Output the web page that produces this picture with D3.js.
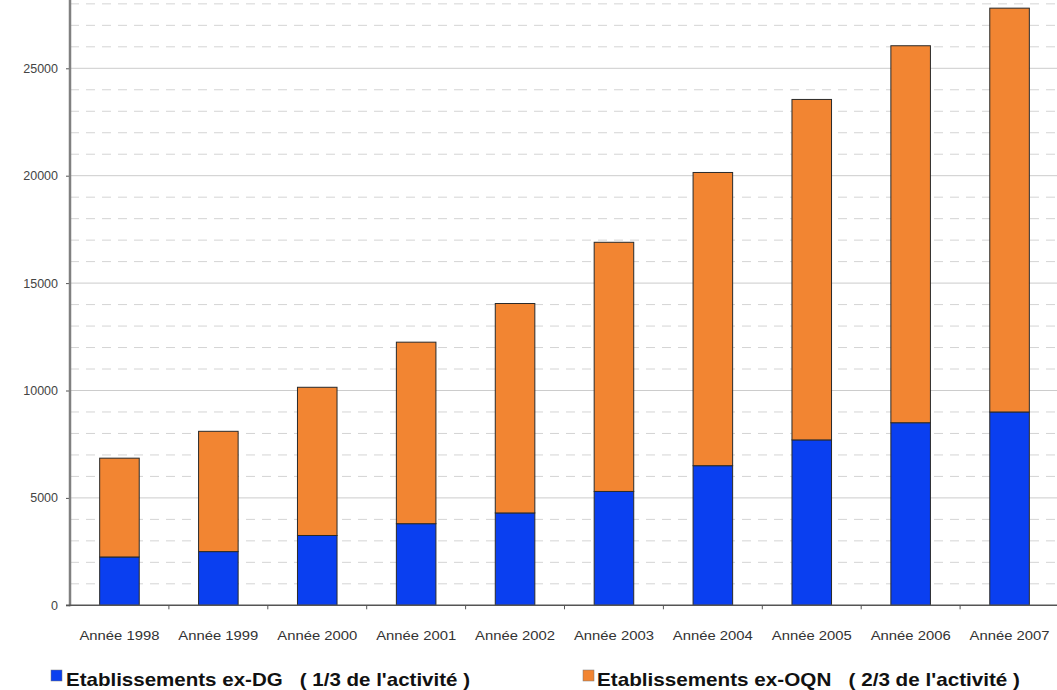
<!DOCTYPE html>
<html>
<head>
<meta charset="utf-8">
<script src="https://cdn.jsdelivr.net/npm/d3@7"></script>
<style>
  html, body { margin: 0; padding: 0; background: #fff; }
  svg { display: block; font-family: "Liberation Sans", Arial, Helvetica, sans-serif; }
</style>
</head>
<body>
<svg id="chart" width="1057" height="690"></svg>
<script>
// Years on the category axis
const years = ["Année 1998", "Année 1999", "Année 2000", "Année 2001", "Année 2002",
               "Année 2003", "Année 2004", "Année 2005", "Année 2006", "Année 2007"];
// Series values (stacked): ex-DG at the bottom, ex-OQN on top
const exDG  = [2250, 2500, 3250, 3800, 4300, 5300, 6500, 7700, 8500, 9000];
const exOQN = [4600, 5600, 6900, 8450, 9750, 11600, 13650, 15850, 17550, 18800];
// Axis ticks
const majorTicks = [0, 5000, 10000, 15000, 20000, 25000];
const minorTicks = [1000, 2000, 3000, 4000, 6000, 7000, 8000, 9000, 11000, 12000, 13000, 14000,
                    16000, 17000, 18000, 19000, 21000, 22000, 23000, 24000, 26000, 27000, 28000];
const seriesNames = ["Etablissements ex-DG   ( 1/3 de l'activité )",
                     "Etablissements ex-OQN   ( 2/3 de l'activité )"];
const colors = ["#0a3ff0", "#f28532"];

const svg = d3.select("#chart");
const left = 70, right = 1059, zeroY = 605.3;

const x = d3.scaleBand().domain(years).range([left, right]).paddingInner(0.6).paddingOuter(0.3);
const bandStep = (right - left) / years.length;
const y = d3.scaleLinear().domain([0, 25000]).range([zeroY, 68.3]);

// minor dashed gridlines
svg.append("g").selectAll("line").data(minorTicks).join("line")
  .attr("x1", left).attr("x2", 1057)
  .attr("y1", d => y(d)).attr("y2", d => y(d))
  .attr("stroke", "#d4d4d4").attr("stroke-width", 1)
  .attr("stroke-dasharray", "9,7");

// major solid gridlines
svg.append("g").selectAll("line").data(majorTicks.filter(d => d > 0)).join("line")
  .attr("x1", left).attr("x2", 1057)
  .attr("y1", d => y(d)).attr("y2", d => y(d))
  .attr("stroke", "#cccccc").attr("stroke-width", 1);

// stacked bars
const rows = years.map((yr, i) => ({ year: yr, dg: exDG[i], oqn: exOQN[i] }));
const stack = d3.stack().keys(["dg", "oqn"])(rows);

svg.append("g").selectAll("g").data(stack).join("g")
  .attr("fill", (d, i) => colors[i])
  .selectAll("rect").data(d => d).join("rect")
  .attr("x", d => x(d.data.year))
  .attr("width", x.bandwidth())
  .attr("y", d => y(d[1]))
  .attr("height", d => y(d[0]) - y(d[1]))
  .attr("stroke", "#2a2a2a").attr("stroke-width", 1);

// y axis
const yAxis = d3.axisLeft(y).tickValues(majorTicks).tickSize(4).tickPadding(8).tickFormat(d3.format("d"));
const gy = svg.append("g").attr("transform", `translate(${left},0)`).call(yAxis);
gy.select(".domain").remove();
gy.selectAll(".tick line").attr("stroke", "#555");
gy.selectAll(".tick text").attr("fill", "#444").style("font-size", "12.5px");
svg.append("line").attr("x1", left).attr("x2", left).attr("y1", 0).attr("y2", zeroY + 1)
  .attr("stroke", "#808080").attr("stroke-width", 2.5);

// x axis with ticks at category boundaries
const boundaries = d3.range(1, years.length).map(i => left + i * bandStep);
svg.append("line").attr("x1", left - 4).attr("x2", 1057).attr("y1", zeroY).attr("y2", zeroY)
  .attr("stroke", "#555").attr("stroke-width", 1.5);
svg.append("g").selectAll("line").data(boundaries).join("line")
  .attr("x1", d => d).attr("x2", d => d)
  .attr("y1", zeroY).attr("y2", zeroY + 4)
  .attr("stroke", "#555");
svg.append("g").selectAll("text").data(years).join("text")
  .attr("x", d => x(d) + x.bandwidth() / 2)
  .attr("y", 640)
  .attr("text-anchor", "middle")
  .attr("fill", "#333")
  .attr("textLength", 80)
  .attr("lengthAdjust", "spacingAndGlyphs")
  .style("font-size", "12.5px")
  .text(d => d);

// legend
const legendPos = [{ sx: 51, tx: 66, w: 404 }, { sx: 583, tx: 597, w: 423 }];
const lg = svg.append("g").selectAll("g").data(seriesNames).join("g");
lg.append("rect")
  .attr("x", (d, i) => legendPos[i].sx).attr("y", 670)
  .attr("width", 11).attr("height", 11)
  .attr("fill", (d, i) => colors[i]).attr("stroke", "#777").attr("stroke-width", 0.5);
lg.append("text")
  .attr("x", (d, i) => legendPos[i].tx).attr("y", 686)
  .attr("fill", "#111")
  .attr("textLength", (d, i) => legendPos[i].w)
  .attr("lengthAdjust", "spacingAndGlyphs")
  .style("font-size", "19px").style("font-weight", "bold")
  .attr("xml:space", "preserve")
  .text(d => d);
</script>
</body>
</html>
